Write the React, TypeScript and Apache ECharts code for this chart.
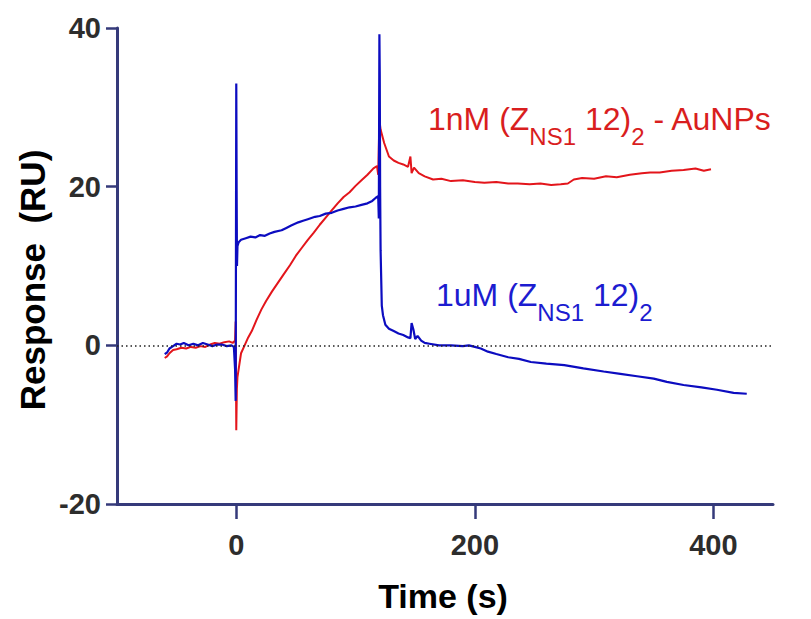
import React, { useEffect, useRef } from 'react';
import * as echarts from 'echarts';

// 1uM (ZNS1 12)2 sensorgram
const blueTime = [
  -60, -58, -56, -53, -50, -47, -44, -40, -36, -32, -28, -24, -20, -16, -12, -8, -4, -2, -1, -0.5,
  0, 0.3, 0.6, 1, 2, 4, 8, 12, 16, 20, 24, 28, 32, 38, 42, 46, 52, 56, 60, 66, 70, 75, 80, 85, 90,
  95, 100, 105, 110, 114, 117, 119, 119.5, 120, 120.3, 120.6, 121, 122, 123, 125, 128, 132, 136,
  140, 144, 146, 147, 148.5, 150, 152, 155, 158, 162, 170, 180, 190, 195, 200, 205, 211, 218, 228,
  237, 247, 260, 275, 291, 308, 322, 336, 350, 361, 375, 390, 403, 417, 428,
];
const blueValue = [
  -1.1, -0.9, -0.4, -0.1, 0.2, 0.1, 0.3, 0.0, 0.2, 0.0, 0.3, 0.1, -0.1, 0.1, 0.1, -0.1, 0.0, -0.2, -3.0, -7.0,
  33.0, 19.5, 10.0, 12.5, 13.0, 13.3, 13.5, 13.7, 13.6, 13.9, 13.8, 14.1, 14.3, 14.5, 14.8, 15.1, 15.5, 15.7, 15.9, 16.2, 16.3, 16.6, 16.7, 17.0, 17.2,
  17.4, 17.5, 17.7, 17.9, 18.2, 18.6, 18.8, 16.0, 39.2, 34.0, 20.0, 12.0, 5.0, 3.8, 2.6, 2.1, 1.8, 1.5,
  1.3, 1.0, 0.9, 2.8, 2.0, 0.8, 1.2, 0.6, 0.3, 0.2, 0.0, 0.0, -0.1, 0.0, -0.2, -0.4, -0.8, -1.1, -1.5,
  -1.7, -2.1, -2.3, -2.5, -2.9, -3.3, -3.6, -3.9, -4.2, -4.6, -5.0, -5.3, -5.6, -6.0, -6.1,
];

// 1nM (ZNS1 12)2 - AuNPs sensorgram
const redTime = [
  -60, -58, -56, -53, -50, -46, -42, -38, -34, -30, -26, -22, -18, -14, -10, -6, -3, -1, -0.5,
  0, 0.5, 1, 2, 4, 7, 10, 13, 17, 21, 25, 30, 35, 40, 45, 50, 55, 60, 65, 70, 75, 80, 85, 90, 95,
  100, 105, 110, 115, 118, 119, 120, 121, 124, 128, 132, 136, 140, 144, 146, 147, 149, 153, 158,
  165, 172, 180, 190, 200, 208, 218, 228, 236, 246, 255, 264, 272, 278, 283, 290, 300, 310, 319,
  330, 340, 347, 355, 365, 375, 385, 392, 398,
];
const redValue = [
  -1.6, -1.4, -1.0, -0.6, -0.5, -0.3, -0.4, -0.2, -0.3, -0.1, -0.2, 0.1, 0.3, 0.2, 0.4, 0.5, 0.3, 0.6, 3.0,
  -10.7, -5.5, -4.0, -3.0, -1.0, 0.0, 1.0, 1.8, 3.2, 4.5, 5.6, 6.8, 7.9, 9.0, 10.1, 11.3, 12.3, 13.3, 14.2, 15.2, 16.1, 17.0, 17.9, 18.7, 19.3,
  20.1, 20.8, 21.5, 22.3, 22.6, 21.5, 28.4, 27.2, 25.5, 23.8, 23.3, 23.0, 22.8, 22.5, 23.8, 21.7, 22.4, 21.7, 21.3,
  20.9, 21.0, 20.7, 20.8, 20.6, 20.5, 20.6, 20.4, 20.4, 20.3, 20.4, 20.2, 20.3, 20.4, 20.9, 21.1, 21.0, 21.3, 21.2,
  21.5, 21.7, 21.8, 21.8, 22.0, 22.1, 22.3, 22.0, 22.2,
];

const xTickValues = [0, 200, 400];
const xTitle = 'Time (s)';
const yTitle = 'Response  (RU)';
const redLabel = '{a|1nM (Z}{s|NS1}{a| 12)}{s|2}{a| - AuNPs}';
const blueLabel = '{a|1uM (Z}{s|NS1}{a| 12)}{s|2}';

const FONT = '"Liberation Sans", Arial, Helvetica, sans-serif';
const AXIS = '#353a7a';
const BLUE = '#0c0cc0';
const RED = '#e3151b';

function richFor(color: string) {
  return {
    a: { fontSize: 32, lineHeight: 36, fill: color, fontFamily: FONT, verticalAlign: 'top' },
    s: { fontSize: 24, lineHeight: 24, fill: color, fontFamily: FONT, verticalAlign: 'top', padding: [21, 0, 0, 0] },
  };
}

export default function App() {
  const ref = useRef<HTMLDivElement>(null);
  useEffect(() => {
    const chart = echarts.init(ref.current!, null, { renderer: 'svg' });
    chart.setOption({
      animation: false,
      backgroundColor: '#ffffff',
      grid: { left: 117, right: 38, top: 28, bottom: 115, containLabel: false },
      xAxis: {
        type: 'value',
        min: -100,
        max: 450,
        splitLine: { show: false },
        axisLine: { onZero: false, lineStyle: { color: AXIS, width: 3 } },
        axisTick: { show: true, length: 15, customValues: xTickValues, lineStyle: { color: AXIS, width: 2.5 } },
        axisLabel: {
          customValues: xTickValues,
          margin: 26,
          fontSize: 29,
          fontWeight: 'bold',
          color: '#2d2d2d',
          fontFamily: FONT,
        },
      },
      yAxis: {
        type: 'value',
        min: -20,
        max: 40,
        interval: 20,
        splitLine: { show: false },
        axisLine: { show: true, onZero: false, lineStyle: { color: AXIS, width: 3 } },
        axisTick: { show: true, length: 11, lineStyle: { color: AXIS, width: 2.5 } },
        axisLabel: {
          margin: 16,
          fontSize: 29,
          fontWeight: 'bold',
          color: '#2d2d2d',
          fontFamily: FONT,
        },
      },
      series: [
        {
          type: 'line',
          name: 'red',
          data: redTime.map((t, i) => [t, redValue[i]]),
          showSymbol: false,
          symbol: 'none',
          lineStyle: { color: RED, width: 2 },
          z: 2,
          markLine: {
            silent: true,
            symbol: 'none',
            label: { show: false },
            lineStyle: { color: '#222222', width: 1.5, type: [1.5, 3] },
            data: [{ yAxis: 0 }],
          },
        },
        {
          type: 'line',
          name: 'blue',
          data: blueTime.map((t, i) => [t, blueValue[i]]),
          showSymbol: false,
          symbol: 'none',
          lineStyle: { color: BLUE, width: 2.2 },
          z: 3,
        },
      ],
      graphic: [
        {
          type: 'text',
          x: 443,
          y: 596,
          style: {
            text: xTitle,
            fontSize: 34,
            fontWeight: 'bold',
            fontFamily: FONT,
            fill: '#000000',
            textAlign: 'center',
            textVerticalAlign: 'middle',
          },
        },
        {
          type: 'text',
          x: 32,
          y: 280,
          rotation: Math.PI / 2,
          style: {
            text: yTitle,
            fontSize: 35,
            fontWeight: 'bold',
            fontFamily: FONT,
            fill: '#000000',
            textAlign: 'center',
            textVerticalAlign: 'middle',
          },
        },
        {
          type: 'text',
          x: 428,
          y: 103,
          style: { text: redLabel, rich: richFor('#d91e1e'), textVerticalAlign: 'top', textAlign: 'left' },
        },
        {
          type: 'text',
          x: 436,
          y: 279,
          style: { text: blueLabel, rich: richFor('#1c1cd0'), textVerticalAlign: 'top', textAlign: 'left' },
        },
      ],
    });
    return () => chart.dispose();
  }, []);
  return <div ref={ref} style={{ position: 'fixed', left: 0, top: 0, width: 811, height: 619 }} />;
}
